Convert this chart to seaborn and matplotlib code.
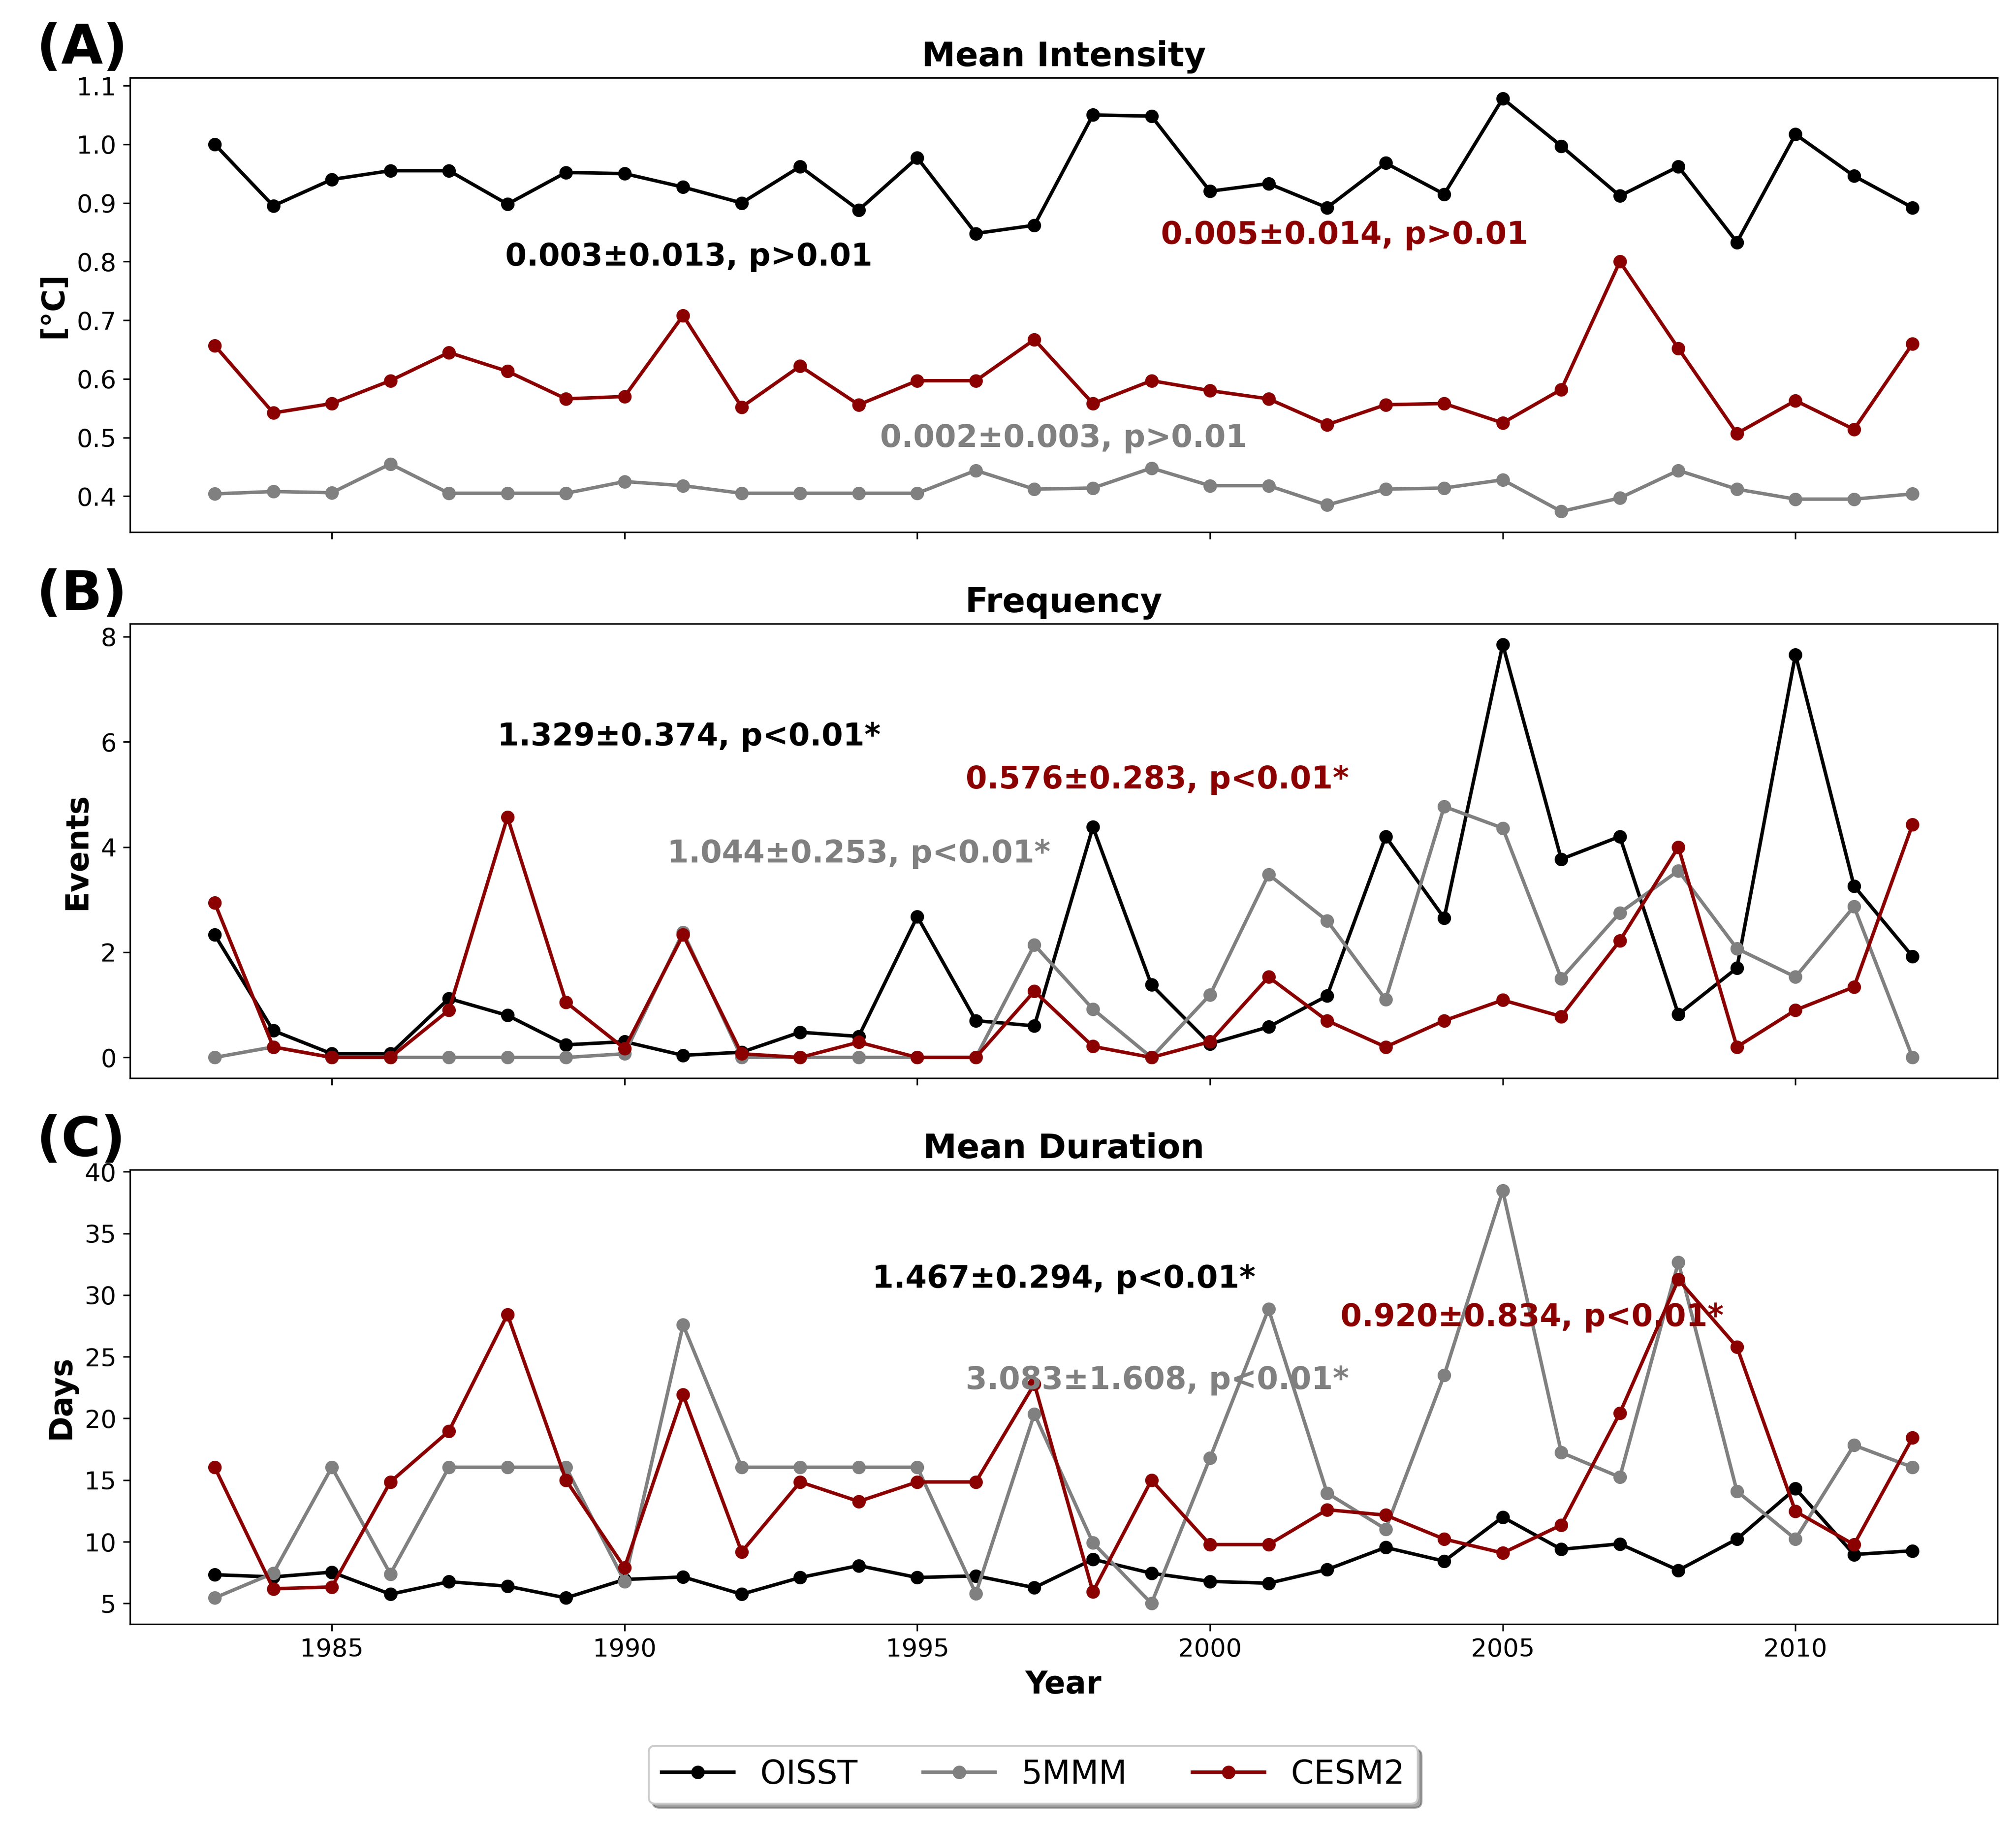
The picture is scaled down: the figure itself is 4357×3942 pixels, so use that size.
import numpy as np
import pandas as pd
import matplotlib
matplotlib.use('Agg')
import matplotlib.pyplot as plt
from matplotlib.ticker import MultipleLocator
import seaborn as sns

plt.rcParams['font.family'] = ['DejaVu Sans']

# Years of the record
years = list(range(1983, 2013))

# (A) Mean intensity [degC]
intensity_oisst = [1.00, 0.895, 0.94, 0.955, 0.955, 0.898, 0.952, 0.95, 0.927, 0.90,
                   0.962, 0.888, 0.977, 0.848, 0.862, 1.05, 1.048, 0.92, 0.933, 0.892,
                   0.968, 0.915, 1.078, 0.997, 0.912, 0.962, 0.833, 1.017, 0.946, 0.892]
intensity_5mmm = [0.404, 0.408, 0.406, 0.455, 0.405, 0.405, 0.405, 0.425, 0.418, 0.405,
                  0.405, 0.405, 0.405, 0.444, 0.412, 0.414, 0.448, 0.418, 0.418, 0.385,
                  0.412, 0.414, 0.428, 0.374, 0.397, 0.444, 0.412, 0.395, 0.395, 0.404]
intensity_cesm2 = [0.657, 0.542, 0.558, 0.597, 0.645, 0.613, 0.566, 0.570, 0.708, 0.552,
                   0.622, 0.556, 0.597, 0.597, 0.667, 0.558, 0.597, 0.580, 0.566, 0.522,
                   0.556, 0.558, 0.525, 0.582, 0.80, 0.652, 0.507, 0.563, 0.514, 0.660]

# (B) Frequency [events]
freq_oisst = [2.33, 0.51, 0.07, 0.07, 1.12, 0.80, 0.24, 0.30, 0.04, 0.10,
              0.48, 0.40, 2.68, 0.70, 0.60, 4.38, 1.38, 0.26, 0.58, 1.17,
              4.20, 2.65, 7.85, 3.77, 4.20, 0.82, 1.70, 7.66, 3.26, 1.92]
freq_5mmm = [0.0, 0.2, 0.0, 0.0, 0.0, 0.0, 0.0, 0.07, 2.38, 0.0,
             0.0, 0.0, 0.0, 0.0, 2.14, 0.92, 0.0, 1.19, 3.48, 2.60,
             1.10, 4.77, 4.36, 1.50, 2.75, 3.55, 2.07, 1.53, 2.87, 0.0]
freq_cesm2 = [2.94, 0.20, 0.0, 0.0, 0.90, 4.57, 1.05, 0.17, 2.33, 0.07,
              0.0, 0.29, 0.0, 0.0, 1.26, 0.21, 0.0, 0.30, 1.53, 0.70,
              0.20, 0.70, 1.09, 0.78, 2.22, 4.00, 0.20, 0.90, 1.34, 4.43]

# (C) Mean duration [days]
dur_oisst = [7.33, 7.15, 7.54, 5.75, 6.76, 6.40, 5.45, 6.94, 7.15, 5.75,
             7.10, 8.07, 7.10, 7.24, 6.28, 8.58, 7.45, 6.79, 6.64, 7.75,
             9.54, 8.43, 12.0, 9.39, 9.83, 7.69, 10.22, 14.31, 8.97, 9.27]
dur_5mmm = [5.45, 7.45, 16.04, 7.39, 16.04, 16.04, 16.04, 6.79, 27.59, 16.04,
            16.04, 16.04, 16.04, 5.80, 20.37, 9.92, 5.0, 16.79, 28.87, 13.95,
            11.03, 23.5, 38.48, 17.24, 15.24, 32.66, 14.10, 10.22, 17.83, 16.04]
dur_cesm2 = [16.04, 6.19, 6.34, 14.85, 18.97, 28.43, 15.0, 7.90, 21.92, 9.18,
             14.85, 13.27, 14.85, 14.85, 22.8, 5.95, 15.0, 9.77, 9.77, 12.6,
             12.16, 10.22, 9.09, 11.36, 20.43, 31.26, 25.8, 12.46, 9.77, 18.43]

series_names = ['OISST', '5MMM', 'CESM2']
colors = {'OISST': 'black', '5MMM': 'grey', 'CESM2': 'darkred'}

panels = [
    ('(A)', 'Mean Intensity', '[°C]', [intensity_oisst, intensity_5mmm, intensity_cesm2],
     [('0.003±0.013, p>0.01', 1991.1, 0.808),
      ('0.002±0.003, p>0.01', 1997.5, 0.499),
      ('0.005±0.014, p>0.01', 2002.3, 0.845)], None),
    ('(B)', 'Frequency', 'Events', [freq_oisst, freq_5mmm, freq_cesm2],
     [('1.329±0.374, p<0.01*', 1991.1, 6.1),
      ('1.044±0.253, p<0.01*', 1994.0, 3.87),
      ('0.576±0.283, p<0.01*', 1999.1, 5.28)], 2),
    ('(C)', 'Mean Duration', 'Days', [dur_oisst, dur_5mmm, dur_cesm2],
     [('1.467±0.294, p<0.01*', 1997.5, 31.3),
      ('3.083±1.608, p<0.01*', 1999.1, 23.1),
      ('0.920±0.834, p<0.01*', 2005.5, 28.2)], None),
]

fig, axes = plt.subplots(3, 1, figsize=(4357 / 300, 3942 / 300), dpi=300, sharex=True)
fig.subplots_adjust(left=0.0644, right=0.9908, top=0.9573, bottom=0.1096, hspace=0.202)

for ax, (tag, title, ylab, data, notes, ystep) in zip(axes, panels):
    for name, vals in zip(series_names, data):
        df = pd.DataFrame({'Year': years, 'Value': vals})
        sns.lineplot(data=df, x='Year', y='Value', ax=ax, color=colors[name],
                     marker='o', markersize=6, markeredgecolor=colors[name],
                     markeredgewidth=1, linewidth=1.8, label=name)
    for (txt, x, y), name in zip(notes, series_names):
        ax.text(x, y, txt, color=colors[name], fontsize=16, fontweight='bold',
                ha='center', va='center')
    if ystep:
        ax.yaxis.set_major_locator(MultipleLocator(ystep))
    ax.set_title(title, fontsize=17.5, fontweight='bold')
    ax.set_ylabel(ylab, fontsize=16, fontweight='bold')
    ax.set_xlabel('')
    ax.tick_params(labelsize=13)
    ax.text(-0.05, 1.005, tag, transform=ax.transAxes, fontsize=28,
            fontweight='bold', ha='left', va='bottom')
    ax.get_legend().remove()

axes[-1].set_xlabel('Year', fontsize=16, fontweight='bold')

handles, labels = axes[0].get_legend_handles_labels()
fig.legend(handles, labels, loc='center', bbox_to_anchor=(0.5125, 0.027),
           ncol=3, fontsize=17, handlelength=2.2, shadow=True, fancybox=True)

plt.savefig('out.png', dpi=300)
